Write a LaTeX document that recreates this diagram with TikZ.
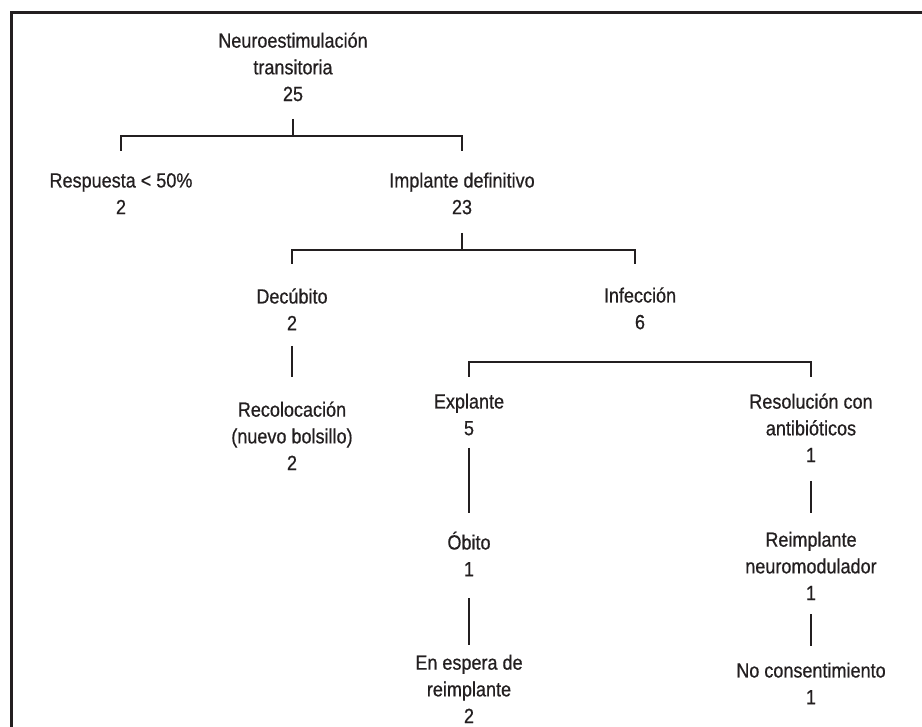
\documentclass[tikz,border=0pt]{standalone}
\usepackage{fontspec}
\newfontfamily\condfont[FakeStretch=0.88,FakeBold=0.6]{Liberation Sans}
\definecolor{ink}{RGB}{35,31,32}
\tikzset{
  lbl/.style={align=center, inner sep=0pt, text=ink,
    font=\fontsize{20.5}{26.7}\selectfont\condfont},
  conn/.style={draw=ink, line width=2.5pt},
  frame/.style={draw=ink, line width=3pt}
}
\newcommand{\sline}[1]{\strut #1}
\begin{document}
\begin{tikzpicture}[x=1pt,y=-1pt]
\useasboundingbox (0,0) rectangle (922,727);
\clip (0,0) rectangle (922,727);
\fill[white] (0,0) rectangle (922,727);
% frame
\coordinate (fbl) at (11,740);
\coordinate (ftl) at (11,12.5);
\coordinate (ftr) at (940,12.5);
\draw[frame] (fbl) -- (ftl) -- (ftr);
% nodes
\node[lbl] (neuro) at (293,69) {\sline{Neuroestimulación}\\\sline{transitoria}\\\sline{25}};
\node[lbl] (resp) at (121,195.5) {\sline{Respuesta < 50\%}\\\sline{2}};
\node[lbl] (impl) at (462,195.5) {\sline{Implante definitivo}\\\sline{23}};
\node[lbl] (decu) at (292,311.5) {\sline{Decúbito}\\\sline{2}};
\node[lbl] (infe) at (640,310.5) {\sline{Infección}\\\sline{6}};
\node[lbl] (reco) at (292,438) {\sline{Recolocación}\\\sline{(nuevo bolsillo)}\\\sline{2}};
\node[lbl] (expl) at (469,416.5) {\sline{Explante}\\\sline{5}};
\node[lbl] (obit) at (469,557.5) {\sline{Óbito}\\\sline{1}};
\node[lbl] (espe) at (469,691) {\sline{En espera de}\\\sline{reimplante}\\\sline{2}};
\node[lbl] (reso) at (811,430) {\sline{Resolución con}\\\sline{antibióticos}\\\sline{1}};
\node[lbl] (reim) at (811,568) {\sline{Reimplante}\\\sline{neuromodulador}\\\sline{1}};
\node[lbl] (nocon) at (811,685.5) {\sline{No consentimiento}\\\sline{1}};
% junction coordinates
\coordinate (j1) at (293,136);
\coordinate (j2) at (462,250);
\coordinate (j3) at (635,264);
% connectors
\draw[conn] (neuro.south |- 0,119) -- (j1);
\draw[conn] (resp.north |- 0,151) |- (j1) -| (impl.north |- 0,151);
\draw[conn] (impl.south |- 0,233) -- (j2);
\draw[conn] (decu.north |- 0,264) |- (j2) -| (j3);
\draw[conn] (decu.south |- 0,346) -- (reco.north |- 0,377);
\draw[conn] (expl.north |- 0,377) |- (reso.north |- 0,362) -- (reso.north |- 0,377);
\draw[conn] (expl.south |- 0,448) -- (obit.north |- 0,513);
\draw[conn] (obit.south |- 0,598) -- (espe.north |- 0,645);
\draw[conn] (reso.south |- 0,481) -- (reim.north |- 0,513);
\draw[conn] (reim.south |- 0,614) -- (nocon.north |- 0,646);
\end{tikzpicture}
\end{document}
